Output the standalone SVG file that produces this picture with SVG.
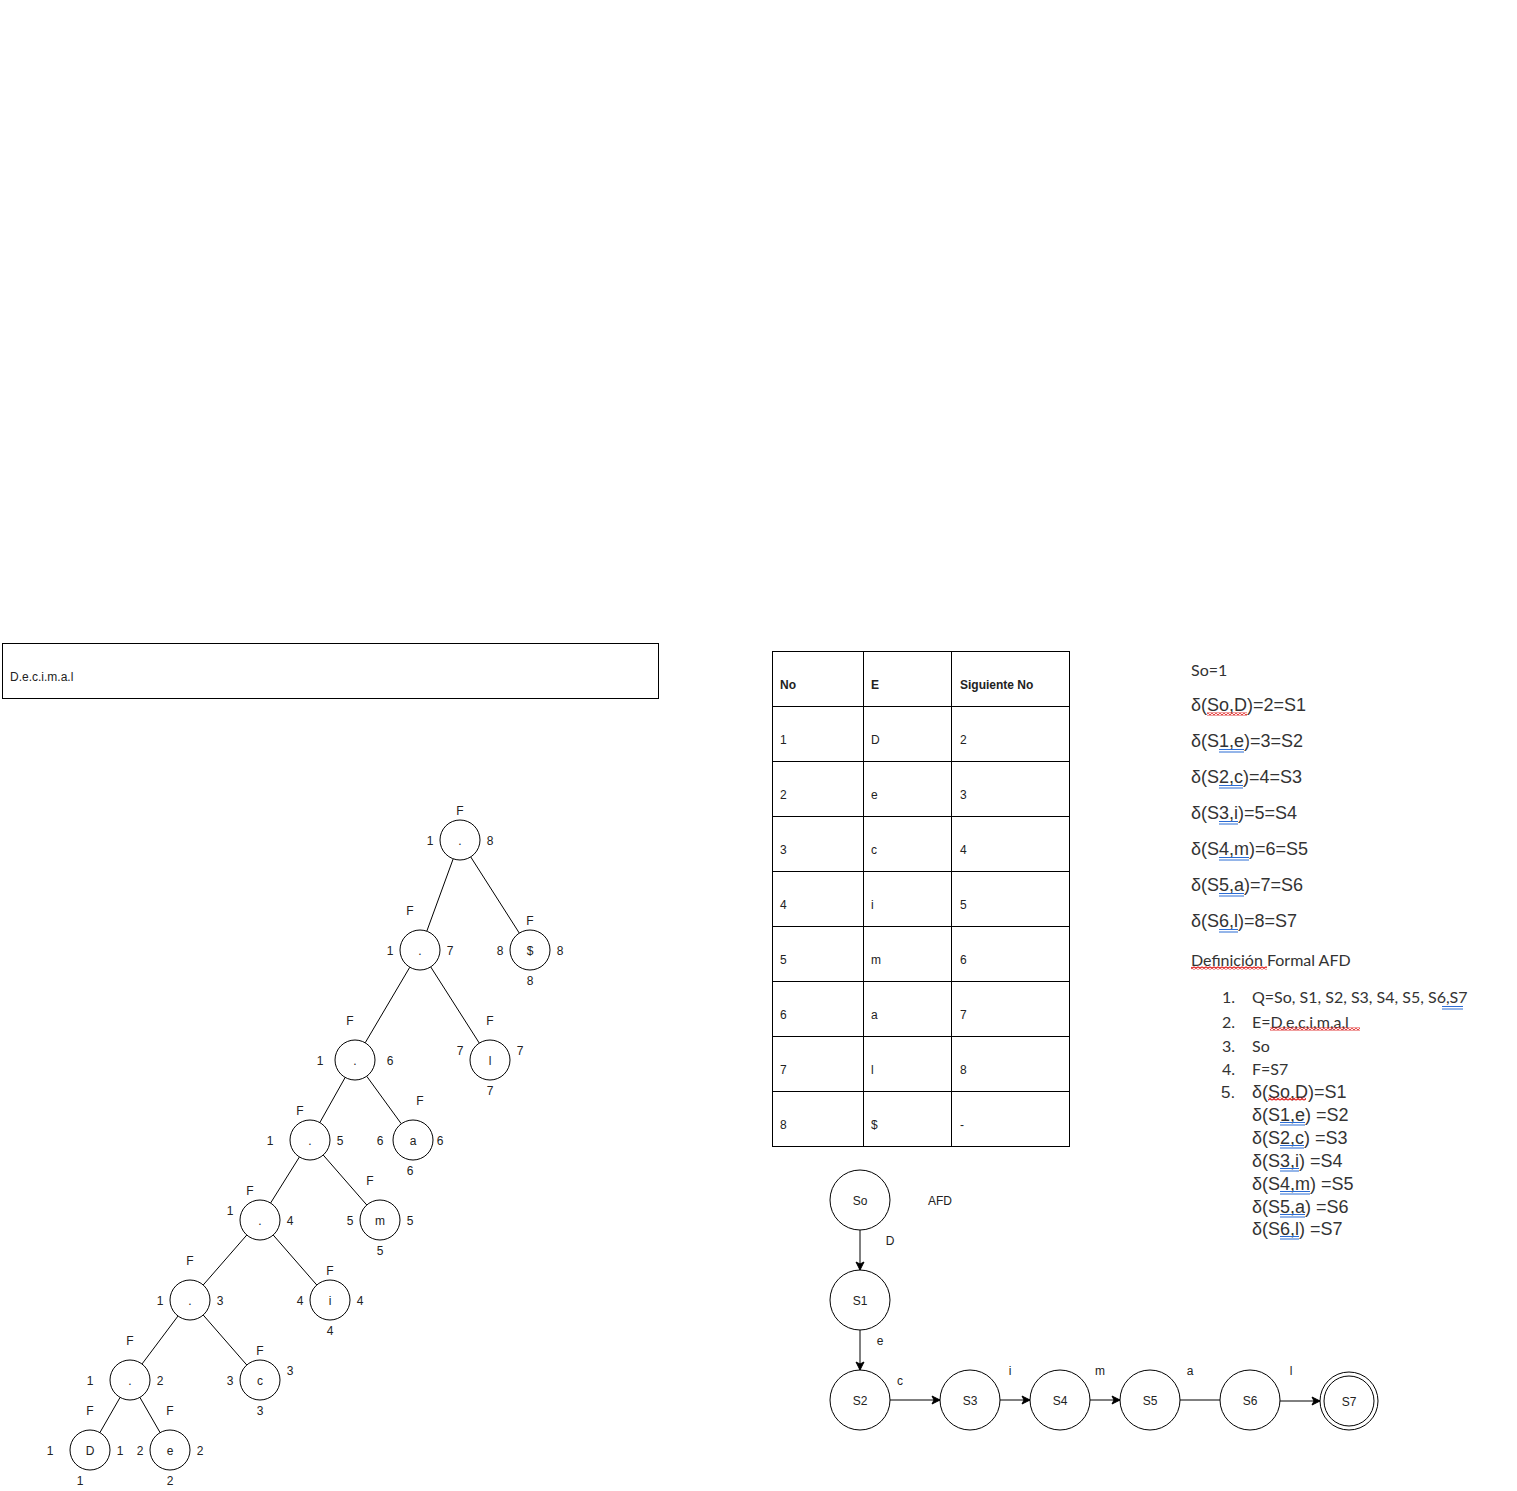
<svg xmlns="http://www.w3.org/2000/svg" width="1517" height="1491" viewBox="0 0 1517 1491">
<style>
.t{font-family:"Liberation Sans",Arial,sans-serif;font-size:12px;fill:#222;text-anchor:middle;dominant-baseline:central}
.tl{font-family:"Liberation Sans",Arial,sans-serif;font-size:12px;fill:#222;dominant-baseline:central}
.th{font-family:"Liberation Sans",Arial,sans-serif;font-size:12px;font-weight:bold;fill:#222;dominant-baseline:central}
.nd{fill:#fff;stroke:#000;stroke-width:1}
.e{stroke:#000;stroke-width:1;fill:none}
.g{stroke:#000;stroke-width:1;fill:none}
.ar{font-family:"Liberation Sans",Arial,sans-serif;font-size:18px;fill:#333;dominant-baseline:central}
.ca{font-family:Lato,"Open Sans",sans-serif;font-size:16px;fill:#333;dominant-baseline:central}
.bu{stroke:#2b6cd4;stroke-width:1;fill:none}
</style>
<defs>
<marker id="arr" markerWidth="10" markerHeight="10" refX="9" refY="5" orient="auto" markerUnits="userSpaceOnUse">
<path d="M1,1 L9,5 L1,9 L3,5 z" fill="#000" stroke="#000" stroke-width="1"/>
</marker>
<pattern id="wave" width="4" height="3" patternUnits="userSpaceOnUse">
<path d="M0,2.5 L2,0.5 L4,2.5" fill="none" stroke="#e02020" stroke-width="1.3"/>
</pattern>
</defs>
<rect width="1517" height="1491" fill="#fff"/>

<g id="header-box">
<rect x="2.5" y="643.5" width="656" height="55" class="g"/>
<text class="tl" x="10" y="677">D.e.c.i.m.a.l</text>
</g>

<g id="tree-edges">
<line class="e" x1="453.2" y1="858.8" x2="426.8" y2="931.2"/>
<line class="e" x1="470.7" y1="856.9" x2="519.3" y2="933.1"/>
<line class="e" x1="409.8" y1="967.2" x2="365.2" y2="1042.8"/>
<line class="e" x1="430.7" y1="966.9" x2="479.3" y2="1043.1"/>
<line class="e" x1="345.2" y1="1077.4" x2="319.8" y2="1122.6"/>
<line class="e" x1="366.7" y1="1076.2" x2="401.3" y2="1123.8"/>
<line class="e" x1="299.4" y1="1157" x2="270.6" y2="1203"/>
<line class="e" x1="323.2" y1="1155" x2="366.8" y2="1205"/>
<line class="e" x1="246.8" y1="1235" x2="203.2" y2="1285"/>
<line class="e" x1="273.2" y1="1235" x2="316.8" y2="1285"/>
<line class="e" x1="178" y1="1316" x2="142" y2="1364"/>
<line class="e" x1="203.2" y1="1315" x2="246.8" y2="1365"/>
<line class="e" x1="120.1" y1="1397.4" x2="99.9" y2="1432.6"/>
<line class="e" x1="139.9" y1="1397.4" x2="160.1" y2="1432.6"/>
</g>

<g id="t-n1"><circle class="nd" cx="460" cy="840" r="20"/><text class="t" x="460" y="841">.</text><text class="t" x="460" y="811">F</text><text class="t" x="430" y="841">1</text><text class="t" x="490" y="841">8</text></g>
<g id="t-n2"><circle class="nd" cx="420" cy="950" r="20"/><text class="t" x="420" y="951">.</text><text class="t" x="410" y="911">F</text><text class="t" x="390" y="951">1</text><text class="t" x="450" y="951">7</text></g>
<g id="t-dollar"><circle class="nd" cx="530" cy="950" r="20"/><text class="t" x="530" y="951">$</text><text class="t" x="530" y="921">F</text><text class="t" x="500" y="951">8</text><text class="t" x="560" y="951">8</text><text class="t" x="530" y="981">8</text></g>
<g id="t-n3"><circle class="nd" cx="355" cy="1060" r="20"/><text class="t" x="355" y="1061">.</text><text class="t" x="350" y="1021">F</text><text class="t" x="320" y="1061">1</text><text class="t" x="390" y="1061">6</text></g>
<g id="t-l"><circle class="nd" cx="490" cy="1060" r="20"/><text class="t" x="490" y="1061">l</text><text class="t" x="490" y="1021">F</text><text class="t" x="460" y="1051">7</text><text class="t" x="520" y="1051">7</text><text class="t" x="490" y="1091">7</text></g>
<g id="t-n4"><circle class="nd" cx="310" cy="1140" r="20"/><text class="t" x="310" y="1141">.</text><text class="t" x="300" y="1111">F</text><text class="t" x="270" y="1141">1</text><text class="t" x="340" y="1141">5</text></g>
<g id="t-a"><circle class="nd" cx="413" cy="1140" r="20"/><text class="t" x="413" y="1141">a</text><text class="t" x="420" y="1101">F</text><text class="t" x="380" y="1141">6</text><text class="t" x="440" y="1141">6</text><text class="t" x="410" y="1171">6</text></g>
<g id="t-n5"><circle class="nd" cx="260" cy="1220" r="20"/><text class="t" x="260" y="1221">.</text><text class="t" x="250" y="1191">F</text><text class="t" x="230" y="1211">1</text><text class="t" x="290" y="1221">4</text></g>
<g id="t-m"><circle class="nd" cx="380" cy="1220" r="20"/><text class="t" x="380" y="1221">m</text><text class="t" x="370" y="1181">F</text><text class="t" x="350" y="1221">5</text><text class="t" x="410" y="1221">5</text><text class="t" x="380" y="1251">5</text></g>
<g id="t-n6"><circle class="nd" cx="190" cy="1300" r="20"/><text class="t" x="190" y="1301">.</text><text class="t" x="190" y="1261">F</text><text class="t" x="160" y="1301">1</text><text class="t" x="220" y="1301">3</text></g>
<g id="t-i"><circle class="nd" cx="330" cy="1300" r="20"/><text class="t" x="330" y="1301">i</text><text class="t" x="330" y="1271">F</text><text class="t" x="300" y="1301">4</text><text class="t" x="360" y="1301">4</text><text class="t" x="330" y="1331">4</text></g>
<g id="t-n7"><circle class="nd" cx="130" cy="1380" r="20"/><text class="t" x="130" y="1381">.</text><text class="t" x="130" y="1341">F</text><text class="t" x="90" y="1381">1</text><text class="t" x="160" y="1381">2</text></g>
<g id="t-c"><circle class="nd" cx="260" cy="1380" r="20"/><text class="t" x="260" y="1381">c</text><text class="t" x="260" y="1351">F</text><text class="t" x="230" y="1381">3</text><text class="t" x="290" y="1371">3</text><text class="t" x="260" y="1411">3</text></g>
<g id="t-D"><circle class="nd" cx="90" cy="1450" r="20"/><text class="t" x="90" y="1451">D</text><text class="t" x="90" y="1411">F</text><text class="t" x="50" y="1451">1</text><text class="t" x="120" y="1451">1</text><text class="t" x="80" y="1481">1</text></g>
<g id="t-e"><circle class="nd" cx="170" cy="1450" r="20"/><text class="t" x="170" y="1451">e</text><text class="t" x="170" y="1411">F</text><text class="t" x="140" y="1451">2</text><text class="t" x="200" y="1451">2</text><text class="t" x="170" y="1481">2</text></g>

<g id="table">
<rect x="772.5" y="651.5" width="297" height="495" class="g"/>
<path class="g" d="M863.5,651.5V1146.5M951.5,651.5V1146.5M772.5,706.5H1069.5M772.5,761.5H1069.5M772.5,816.5H1069.5M772.5,871.5H1069.5M772.5,926.5H1069.5M772.5,981.5H1069.5M772.5,1036.5H1069.5M772.5,1091.5H1069.5"/>
<text class="th" x="780" y="685">No</text><text class="th" x="871" y="685">E</text><text class="th" x="960" y="685">Siguiente No</text>
<text class="tl" x="780" y="740">1</text><text class="tl" x="871" y="740">D</text><text class="tl" x="960" y="740">2</text>
<text class="tl" x="780" y="795">2</text><text class="tl" x="871" y="795">e</text><text class="tl" x="960" y="795">3</text>
<text class="tl" x="780" y="850">3</text><text class="tl" x="871" y="850">c</text><text class="tl" x="960" y="850">4</text>
<text class="tl" x="780" y="905">4</text><text class="tl" x="871" y="905">i</text><text class="tl" x="960" y="905">5</text>
<text class="tl" x="780" y="960">5</text><text class="tl" x="871" y="960">m</text><text class="tl" x="960" y="960">6</text>
<text class="tl" x="780" y="1015">6</text><text class="tl" x="871" y="1015">a</text><text class="tl" x="960" y="1015">7</text>
<text class="tl" x="780" y="1070">7</text><text class="tl" x="871" y="1070">l</text><text class="tl" x="960" y="1070">8</text>
<text class="tl" x="780" y="1125">8</text><text class="tl" x="871" y="1125">$</text><text class="tl" x="960" y="1125">-</text>
</g>

<g id="transitions">
<text class="ca" x="1191" y="669">So=1</text>
<text class="ar" x="1191" y="705">δ(So,D)=2=S1</text>
<rect x="1207" y="712.5" width="40" height="3" fill="url(#wave)"/>
<text class="ar" x="1191" y="741">δ(S1,e)=3=S2</text>
<path class="bu" d="M1219,749.5H1244M1219,752H1244"/>
<text class="ar" x="1191" y="777">δ(S2,c)=4=S3</text>
<path class="bu" d="M1219,785.5H1243M1219,788H1243"/>
<text class="ar" x="1191" y="813">δ(S3,i)=5=S4</text>
<path class="bu" d="M1219,821.5H1238M1219,824H1238"/>
<text class="ar" x="1191" y="849">δ(S4,m)=6=S5</text>
<path class="bu" d="M1219,857.5H1249M1219,860H1249"/>
<text class="ar" x="1191" y="885">δ(S5,a)=7=S6</text>
<path class="bu" d="M1219,893.5H1244M1219,896H1244"/>
<text class="ar" x="1191" y="921">δ(S6,l)=8=S7</text>
<path class="bu" d="M1219,929.5H1238M1219,932H1238"/>
<text class="ca" x="1191" y="959">Definición Formal AFD</text>
<rect x="1191" y="966.5" width="76" height="3" fill="url(#wave)"/>
</g>

<g id="formal-definition">
<text class="ca" x="1222" y="996">1.</text><text class="ca" x="1252" y="996">Q=So, S1, S2, S3, S4, S5, S6,S7</text>
<path class="bu" d="M1442,1006.5H1463M1442,1009H1463"/>
<text class="ca" x="1222" y="1021">2.</text><text class="ca" x="1252" y="1021">E=D,e,c,i,m,a,l</text>
<rect x="1270" y="1027.5" width="90" height="3" fill="url(#wave)"/>
<text class="ca" x="1222" y="1045">3.</text><text class="ca" x="1252" y="1045">So</text>
<text class="ca" x="1222" y="1068">4.</text><text class="ca" x="1252" y="1068">F=S7</text>
<text class="ar" x="1221" y="1092" style="font-size:17px">5.</text><text class="ar" x="1252" y="1092">δ(So,D)=S1</text>
<rect x="1268" y="1097.5" width="38" height="3" fill="url(#wave)"/>
<text class="ar" x="1252" y="1115">δ(S1,e) =S2</text>
<path class="bu" d="M1280,1122.5H1305M1280,1125H1305"/>
<text class="ar" x="1252" y="1138">δ(S2,c) =S3</text>
<path class="bu" d="M1280,1145.5H1304M1280,1148H1304"/>
<text class="ar" x="1252" y="1161">δ(S3,i) =S4</text>
<path class="bu" d="M1280,1168.5H1299M1280,1171H1299"/>
<text class="ar" x="1252" y="1184">δ(S4,m) =S5</text>
<path class="bu" d="M1280,1191.5H1310M1280,1194H1310"/>
<text class="ar" x="1252" y="1207">δ(S5,a) =S6</text>
<path class="bu" d="M1280,1214.5H1305M1280,1217H1305"/>
<text class="ar" x="1252" y="1229">δ(S6,l) =S7</text>
<path class="bu" d="M1280,1236.5H1299M1280,1239H1299"/>
</g>

<g id="afd-connectors">
<line class="e" x1="860" y1="1230" x2="860" y2="1270" marker-end="url(#arr)"/>
<line class="e" x1="860" y1="1330" x2="860" y2="1370" marker-end="url(#arr)"/>
<line class="e" x1="890" y1="1400" x2="940" y2="1400" marker-end="url(#arr)"/>
<line class="e" x1="1000" y1="1400" x2="1030" y2="1400" marker-end="url(#arr)"/>
<line class="e" x1="1090" y1="1400" x2="1120" y2="1400" marker-end="url(#arr)"/>
<line class="e" x1="1180" y1="1400" x2="1220" y2="1400"/>
<line class="e" x1="1280" y1="1401" x2="1320" y2="1401" marker-end="url(#arr)"/>
<text class="t" x="890" y="1241">D</text>
<text class="t" x="880" y="1341">e</text>
<text class="t" x="900" y="1381">c</text>
<text class="t" x="1010" y="1371">i</text>
<text class="t" x="1100" y="1371">m</text>
<text class="t" x="1190" y="1371">a</text>
<text class="t" x="1291" y="1371">l</text>
</g>
<text class="t" x="940" y="1201">AFD</text>

<g id="s-So"><circle class="nd" cx="860" cy="1200" r="30"/><text class="t" x="860" y="1201">So</text></g>
<g id="s-S1"><circle class="nd" cx="860" cy="1300" r="30"/><text class="t" x="860" y="1301">S1</text></g>
<g id="s-S2"><circle class="nd" cx="860" cy="1400" r="30"/><text class="t" x="860" y="1401">S2</text></g>
<g id="s-S3"><circle class="nd" cx="970" cy="1400" r="30"/><text class="t" x="970" y="1401">S3</text></g>
<g id="s-S4"><circle class="nd" cx="1060" cy="1400" r="30"/><text class="t" x="1060" y="1401">S4</text></g>
<g id="s-S5"><circle class="nd" cx="1150" cy="1400" r="30"/><text class="t" x="1150" y="1401">S5</text></g>
<g id="s-S6"><circle class="nd" cx="1250" cy="1400" r="30"/><text class="t" x="1250" y="1401">S6</text></g>
<g id="s-S7"><circle class="nd" cx="1349" cy="1401" r="29"/><circle class="nd" cx="1349" cy="1401" r="25"/><text class="t" x="1349" y="1402">S7</text></g>
</svg>
